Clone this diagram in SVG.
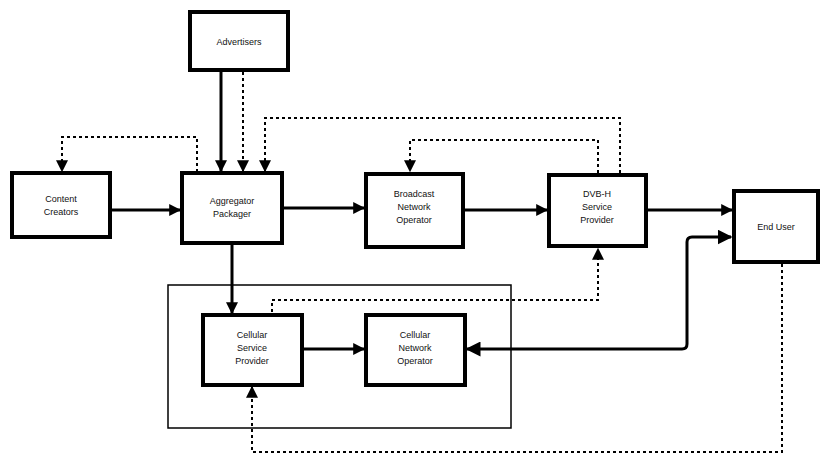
<svg xmlns="http://www.w3.org/2000/svg" width="822" height="459" viewBox="0 0 822 459">
<defs>
<marker id="ah" viewBox="0 0 10 10" refX="9" refY="5" markerWidth="4" markerHeight="4" markerUnits="strokeWidth" orient="auto"><path d="M0,0 L10,5 L0,10 z" fill="#000"/></marker>
<marker id="ahs" viewBox="0 0 10 10" refX="9" refY="5" markerWidth="5" markerHeight="5" markerUnits="strokeWidth" orient="auto-start-reverse"><path d="M0,0 L10,5 L0,10 z" fill="#000"/></marker>
<marker id="ahd" viewBox="0 0 10 10" refX="9" refY="5" markerWidth="6" markerHeight="6" markerUnits="strokeWidth" orient="auto"><path d="M0,0 L10,5 L0,10 z" fill="#000"/></marker>
<style>
.box{fill:#fff;stroke:#000;stroke-width:4}
.lbl{font-family:"Liberation Sans",Arial,sans-serif;font-size:9px;fill:#111;text-anchor:middle}
.solid{fill:none;stroke:#000;stroke-width:3;marker-end:url(#ah)}
.dash{fill:none;stroke:#000;stroke-width:2;stroke-dasharray:3 3;marker-end:url(#ahd)}
</style>
</defs>
<rect width="822" height="459" fill="#fff"/>
<rect x="168" y="285" width="343" height="143" fill="none" stroke="#000" stroke-width="1.5"/>
<g id="connectors">
<path class="solid" d="M221,72 V171"/>
<path class="dash" d="M243,72 V171"/>
<path class="dash" d="M620,173 V118 H265 V171"/>
<path class="dash" d="M598,173 V140 H410 V171"/>
<path class="dash" d="M197,172 V137 H62 V171"/>
<path class="solid" d="M112,210 H180"/>
<path class="solid" d="M284,208 H364"/>
<path class="solid" d="M465,210 H547"/>
<path class="solid" d="M648,210 H732"/>
<path class="solid" d="M232,245 V313"/>
<path class="solid" d="M304,349 H364"/>
<path d="M467,349 H682 Q687,349 687,344 V242 Q687,237 692,237 H731" fill="none" stroke="#000" stroke-width="3" marker-start="url(#ahs)" marker-end="url(#ahs)"/>
<path class="dash" d="M272,312 V300 H598 V249"/>
<path class="dash" d="M782,264 V452 H252 V387"/>
</g>
<g id="advertisers"><rect class="box" x="190" y="12" width="98" height="58"/><text class="lbl" x="239" y="45">Advertisers</text></g>
<g id="content-creators"><rect class="box" x="12" y="173" width="98" height="64"/><text class="lbl" x="61" y="202">Content</text><text class="lbl" x="61" y="215">Creators</text></g>
<g id="aggregator"><rect class="box" x="182" y="173" width="100" height="70"/><text class="lbl" x="232" y="204">Aggregator</text><text class="lbl" x="232" y="217">Packager</text></g>
<g id="broadcast"><rect class="box" x="366" y="174" width="97" height="73"/><text class="lbl" x="414" y="197">Broadcast</text><text class="lbl" x="414" y="210">Network</text><text class="lbl" x="414" y="223">Operator</text></g>
<g id="dvbh"><rect class="box" x="549" y="175" width="97" height="71"/><text class="lbl" x="597" y="197">DVB-H</text><text class="lbl" x="597" y="210">Service</text><text class="lbl" x="597" y="223">Provider</text></g>
<g id="end-user"><rect class="box" x="734" y="191" width="84" height="71"/><text class="lbl" x="776" y="230">End User</text></g>
<g id="cellular-sp"><rect class="box" x="203" y="315" width="99" height="70"/><text class="lbl" x="252" y="338">Cellular</text><text class="lbl" x="252" y="351">Service</text><text class="lbl" x="252" y="364">Provider</text></g>
<g id="cellular-no"><rect class="box" x="366" y="315" width="99" height="70"/><text class="lbl" x="415" y="338">Cellular</text><text class="lbl" x="415" y="351">Network</text><text class="lbl" x="415" y="364">Operator</text></g>
</svg>
